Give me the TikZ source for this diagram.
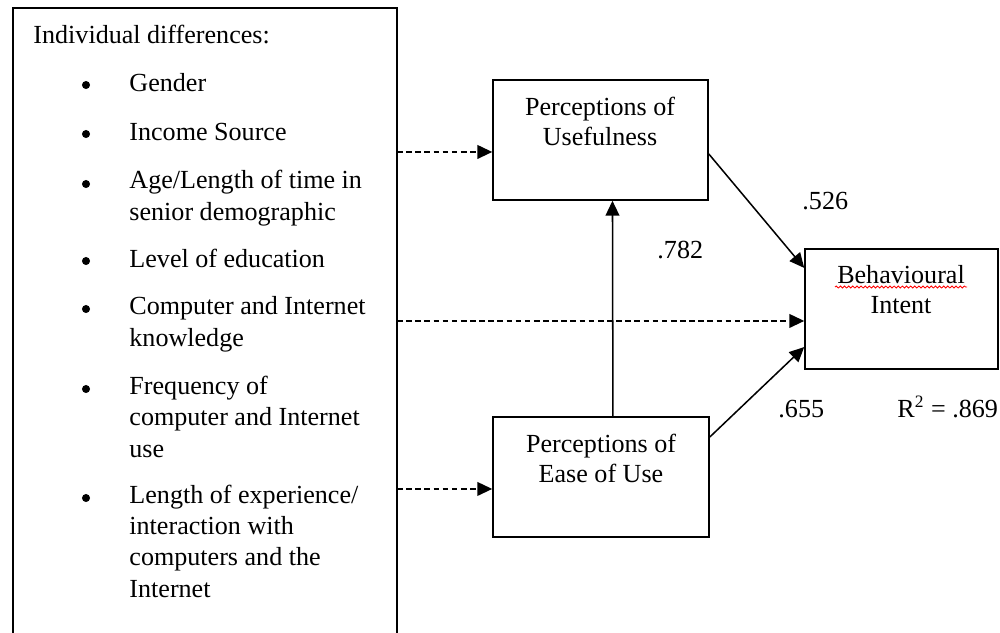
\documentclass[tikz,border=0pt]{standalone}
\usepackage{fontspec}
\setmainfont{Liberation Serif}
\usetikzlibrary{arrows.meta,decorations.pathmorphing}
\begin{document}
\begin{tikzpicture}[x=0.46pt, y=-0.46pt, font=\fontsize{12pt}{14.3pt}\selectfont, >={Triangle[length=6.8pt,width=6.3pt]},
	box/.style={draw, line width=0.7pt, minimum height=55.2pt, inner sep=0pt},
	boxtext/.style={anchor=base, align=center, inner sep=0pt, font=\fontsize{12pt}{13.8pt}\selectfont},
	item/.style={anchor=base west, align=left, inner sep=0pt},
	dot/.style={circle, fill, inner sep=0pt, minimum size=3.7pt},
	num/.style={anchor=base west, inner sep=0pt},
	dasharr/.style={->, line width=0.7pt, dash pattern=on 2.6pt off 1.6pt},
	solidarr/.style={->, line width=0.7pt}]
	\useasboundingbox (0,0) rectangle (1000,632);
	% individual differences (first and last baseline of each item)
	\draw[line width=0.7pt] (13,640) -- (13,8) -- (397,8) -- (397,640);
	\coordinate (diffE) at (397,320);
	\node[item] (head) at (33,43) {Individual differences:};
	\foreach \txt/\yb/\yy [count=\n] in {Gender/91/91, Income Source/140/140,
		{Age/Length of time in\\senior demographic}/190/220, Level of education/267/267,
		{Computer and Internet\\knowledge}/315/346, {Frequency of\\computer and Internet\\use}/395/457,
		{Length of experience/\\interaction with\\computers and the\\Internet}/504/597}{
		\node[dot] (bul\n) at (86,\yb-6) {};
		\node[item] (itm\n) at (129,\yy) {\txt};
	}
	% the model
	\node[box, minimum width=98.9pt] (PU) at (600.5,140) {};
	\node[box, minimum width=99.4pt] (EU) at (601,477) {};
	\node[box, minimum width=88.8pt] (BI) at (901.5,309) {};
	\node[boxtext] (PUtxt) at (600,145) {Perceptions of\\Usefulness};
	\node[boxtext] (EUtxt) at (601,482) {Perceptions of\\Ease of Use};
	\node[boxtext] (BItxt) at (901,313) {Behavioural\\Intent};
	\draw[red, line width=0.4pt, decorate, decoration={snake, amplitude=0.45pt, segment length=1.9pt}] (835,287) -- (967,287);
	\coordinate (PUin) at ([yshift=-5.5pt]PU.west);
	\coordinate (EUin) at ([yshift=-5.5pt]EU.west);
	\coordinate (BIin) at ([yshift=-5.5pt]BI.west);
	\draw[dasharr] (PUin -| diffE) -- (PUin);
	\draw[dasharr] (EUin -| diffE) -- (EUin);
	\draw[dasharr] (BIin -| diffE) -- (BIin);
	\draw[solidarr] ([xshift=5.5pt]EU.north) -- ([xshift=5.5pt]PU.south);
	\draw[solidarr] ([yshift=-6.4pt]PU.east) -- ([yshift=18.9pt]BI.west);
	\draw[solidarr] ([yshift=18.4pt]EU.east) -- ([yshift=-17.5pt]BI.west);
	\node[num] (b1) at (802,209) {.526};
	\node[num] (b2) at (657,258) {.782};
	\node[num] (b3) at (778,417) {.655};
	\node[num] (rsq) at (897,417) {R\textsuperscript{2} = .869};
\end{tikzpicture}
\end{document}
